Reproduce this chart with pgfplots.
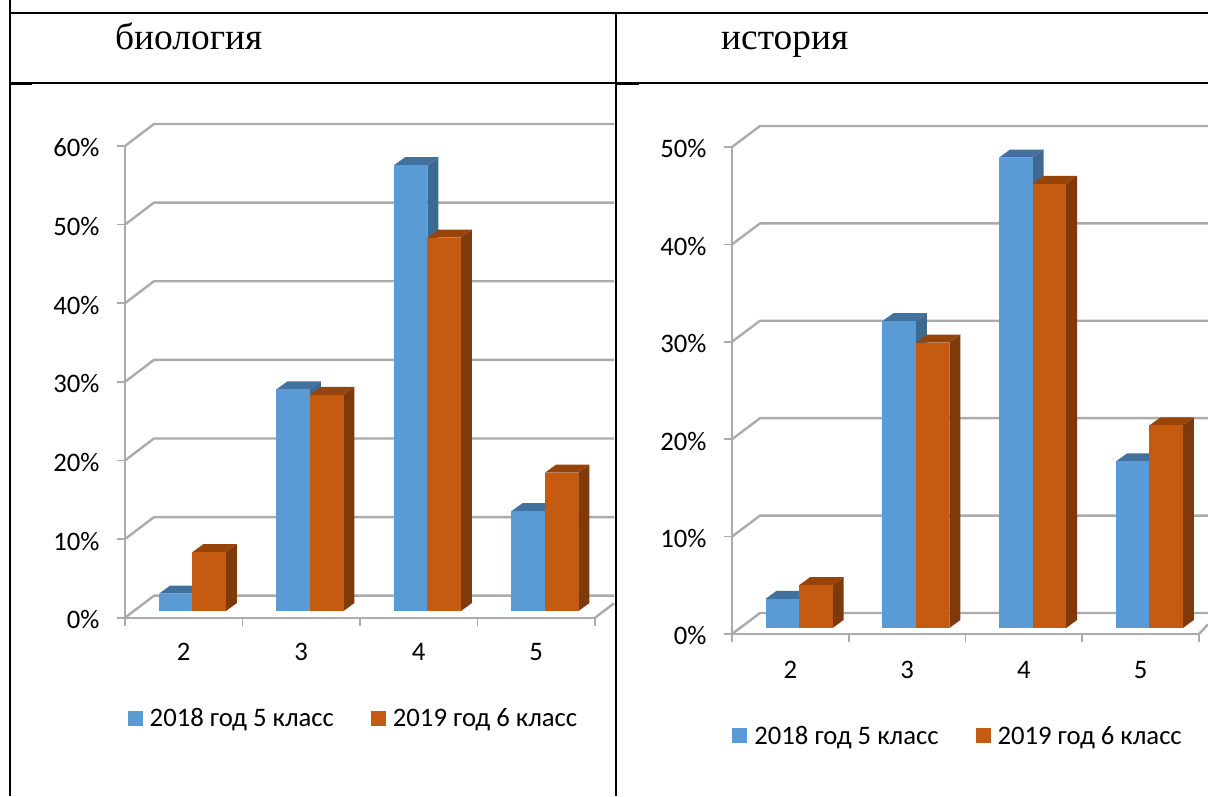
\documentclass[border=0pt]{standalone}
\usepackage{fontspec}
\usepackage{pgfplots}
\pgfplotsset{compat=1.18}
\setmainfont{Liberation Serif}
\newfontfamily\carlito{Carlito}

\definecolor{blueF}{HTML}{5B9BD5}
\definecolor{blueS}{HTML}{3E6A92}
\definecolor{blueT}{HTML}{41719C}
\definecolor{oranF}{HTML}{C55A11}
\definecolor{oranS}{HTML}{7F3A0B}
\definecolor{oranT}{HTML}{964409}
\definecolor{wallc}{HTML}{ABABAB}

% px per data unit of the current panel
\newcommand{\setunits}[2]{\def\xu{#1}\def\yu{#2}}

% one gridline on the wall: front tick -> back corner -> right edge
% #1 value, #2 wall depth x px, #3 wall depth y px, #4 right end (data x)
\newcommand{\wall}[4]{%
  \pgfmathsetmacro{\wx}{#2/\xu}%
  \pgfmathsetmacro{\wy}{#1+#3/\yu}%
  \addplot[forget plot, wallc, line width=2.4pt] coordinates {(0,#1) (\wx,\wy) (#4,\wy)};%
}

% one 3d bar: #1 category centre, #2 value, #3 shift px, #4 front, #5 side, #6 top, #7 base shift px
\newcommand{\onebar}[7]{%
  \pgfmathsetmacro{\xl}{#1+(#3-16.75)/\xu}%
  \pgfmathsetmacro{\xr}{#1+(#3+16.75)/\xu}%
  \pgfmathsetmacro{\xlb}{\xl+11/\xu}%
  \pgfmathsetmacro{\xrb}{\xr+11/\xu}%
  \pgfmathsetmacro{\yb}{#7/\yu}%
  \pgfmathsetmacro{\yt}{#2+#7/\yu}%
  \pgfmathsetmacro{\ybb}{\yb+8/\yu}%
  \pgfmathsetmacro{\ytb}{\yt+8/\yu}%
  \addplot[forget plot, fill=#5, draw=none] coordinates {(\xr,\yb) (\xrb,\ybb) (\xrb,\ytb) (\xr,\yt)};%
  \addplot[forget plot, fill=#6, draw=none] coordinates {(\xl,\yt) (\xlb,\ytb) (\xrb,\ytb) (\xr,\yt)};%
  \addplot[forget plot, ybar, bar width=33.5pt, bar shift=#3pt, yshift=#7pt, fill=#4, draw=none] coordinates {(#1,#2)};%
}

\pgfplotsset{
  panel/.style={
    scale only axis,
    xmin=0, xmax=4,
    ymin=0,
    clip=false,
    axis lines=left,
    axis line style={wallc, line width=2.4pt, -},
    tick style={wallc, line width=1.6pt},
    tick align=outside,
    major tick length=8pt,
    xtick={0,1,2,3,4},
    x tick label as interval,
    xticklabels={2,3,4,5},
    ticklabel style={font=\carlito\fontsize{26.7}{26.7}\selectfont, text=black},
    yticklabel style={xshift=-14pt, yshift=-2pt},
    /pgf/number format/assume math mode=true,
    legend cell align=left,
    legend columns=2,
    legend image code/.code={\path[##1] (0pt,-7.5pt) rectangle (15pt,7.5pt);},
  },
  lgd/.style={
    draw=none, fill=none, inner sep=0pt, anchor=center,
    font=\carlito\fontsize{26.7}{26.7}\selectfont,
    /tikz/every even column/.append style={column sep=35pt},
    /tikz/every odd column/.append style={column sep=5pt},
  },
}

\begin{document}
\begin{tikzpicture}[x=1pt,y=1pt]
\path[use as bounding box] (0,0) rectangle (1208,796);

% table frame
\draw[black, line width=2.4pt] (10,796) -- (10,783) -- (1208,783);
\draw[black, line width=2.4pt] (616,783) -- (616,0);
\draw[black, line width=1.4pt] (10,713) -- (1208,713);
\draw[black, line width=1.6pt] (10,712) -- (32,712);
\draw[black, line width=1.6pt] (616,712) -- (639,712);
\draw[black, line width=2.4pt] (10,796) -- (10,0);
\node[anchor=base west, inner sep=0pt, font=\fontsize{37.4}{37.4}\selectfont] at (115,746.5) {биология};
\node[anchor=base west, inner sep=0pt, font=\fontsize{37.4}{37.4}\selectfont] at (721,746.5) {история};

% биология
\begin{axis}[panel,
  at={(125pt,178.3pt)}, anchor=south west,
  width=470pt, height=471.7pt,
  ymax=60,
  ytick={0,10,20,30,40,50,60},
  yticklabels={0\%,10\%,20\%,30\%,40\%,50\%,60\%},
  xticklabel style={yshift=-14pt},
  legend style={lgd, at={(0.486,-0.2127)}},
]
\setunits{117.5}{7.86}
\wall{0}{29}{22}{4.162}
\wall{10}{29}{22}{4.162}
\wall{20}{29}{22}{4.162}
\wall{30}{29}{22}{4.162}
\wall{40}{29}{22}{4.162}
\wall{50}{29}{22}{4.162}
\wall{60}{29}{22}{4.162}
\addplot[forget plot, wallc, line width=2.4pt] coordinates {(4,0) (4.162,1.83)};

\onebar{0.5}{2.2}{-8}{blueF}{blueS}{blueT}{6.7}
\onebar{0.5}{7.5}{25.5}{oranF}{oranS}{oranT}{6.7}
\onebar{1.5}{28.2}{-8}{blueF}{blueS}{blueT}{6.7}
\onebar{1.5}{27.5}{25.5}{oranF}{oranS}{oranT}{6.7}
\onebar{2.5}{56.7}{-8}{blueF}{blueS}{blueT}{6.7}
\onebar{2.5}{47.5}{25.5}{oranF}{oranS}{oranT}{6.7}
\onebar{3.5}{12.7}{-8}{blueF}{blueS}{blueT}{6.7}
\onebar{3.5}{17.6}{25.5}{oranF}{oranS}{oranT}{6.7}

\addlegendimage{fill=blueF, draw=none}
\addlegendentry{2018 год 5 класс}
\addlegendimage{fill=oranF, draw=none}
\addlegendentry{2019 год 6 класс}
\end{axis}

% история
\begin{axis}[panel,
  at={(732pt,162pt)}, anchor=south west,
  width=467pt, height=487pt,
  ymax=50,
  ytick={0,10,20,30,40,50},
  yticklabels={0\%,10\%,20\%,30\%,40\%,50\%},
  xticklabel style={yshift=-16pt},
  legend style={lgd, at={(0.484,-0.2094)}},
]
\setunits{116.75}{9.74}
\wall{0}{28}{21}{4.103}
\wall{10}{28}{21}{4.103}
\wall{20}{28}{21}{4.103}
\wall{30}{28}{21}{4.103}
\wall{40}{28}{21}{4.103}
\wall{50}{28}{21}{4.103}
\addplot[forget plot, wallc, line width=2.4pt] coordinates {(4,0) (4.077,1.0)};

\onebar{0.5}{3.0}{-8}{blueF}{blueS}{blueT}{6}
\onebar{0.5}{4.4}{25.5}{oranF}{oranS}{oranT}{6}
\onebar{1.5}{31.5}{-8}{blueF}{blueS}{blueT}{6}
\onebar{1.5}{29.3}{25.5}{oranF}{oranS}{oranT}{6}
\onebar{2.5}{48.3}{-8}{blueF}{blueS}{blueT}{6}
\onebar{2.5}{45.6}{25.5}{oranF}{oranS}{oranT}{6}
\onebar{3.5}{17.1}{-8}{blueF}{blueS}{blueT}{6}
\onebar{3.5}{20.8}{25.5}{oranF}{oranS}{oranT}{6}

\addlegendimage{fill=blueF, draw=none}
\addlegendentry{2018 год 5 класс}
\addlegendimage{fill=oranF, draw=none}
\addlegendentry{2019 год 6 класс}
\end{axis}
\end{tikzpicture}
\end{document}
